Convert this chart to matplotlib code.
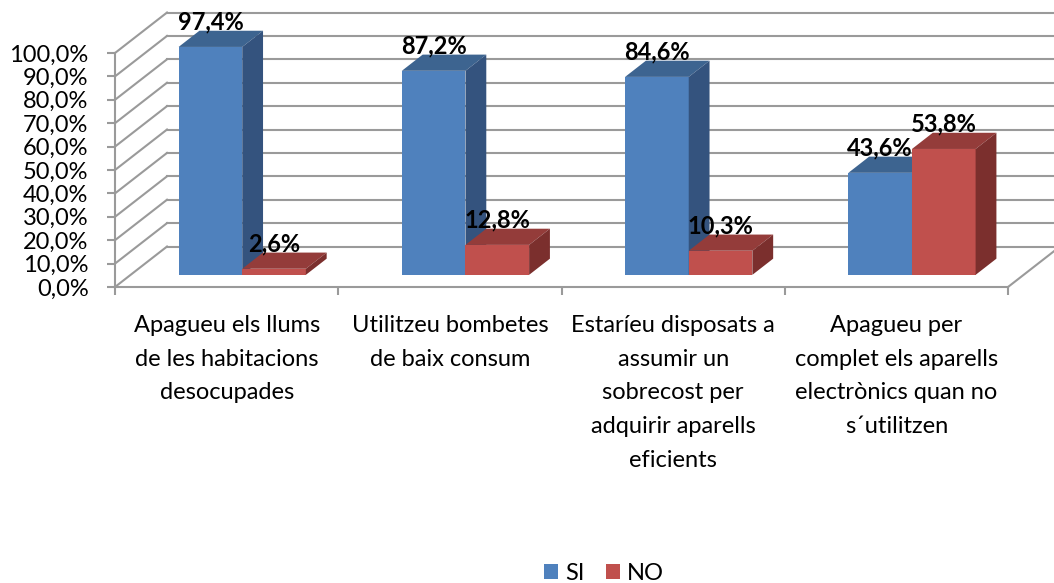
import matplotlib
matplotlib.use('Agg')
import matplotlib.pyplot as plt
from matplotlib.patches import Polygon, Patch

# ---- data ----
categories = [
    "Apagueu els llums\nde les habitacions\ndesocupades",
    "Utilitzeu bombetes\nde baix consum",
    "Estaríeu disposats a\nassumir un\nsobrecost per\nadquirir aparells\neficients",
    "Apagueu per\ncomplet els aparells\nelectrònics quan no\ns´utilitzen",
]
series_names = ["SI", "NO"]
si_values = [97.4, 87.2, 84.6, 43.6]
no_values = [2.6, 12.8, 10.3, 53.8]
yticks = [0, 10, 20, 30, 40, 50, 60, 70, 80, 90, 100]
ytick_labels = ["0,0%", "10,0%", "20,0%", "30,0%", "40,0%", "50,0%",
                "60,0%", "70,0%", "80,0%", "90,0%", "100,0%"]

# ---- style ----
plt.rcParams['font.family'] = ['Lato', 'DejaVu Sans']
FS = 17
GRID = '#9a9a9a'
front_cols = ['#4F81BD', '#C0504D']
top_cols = ['#3D6490', '#943C3A']
side_cols = ['#34537E', '#7B2F2D']

DX, DY = 0.233, 17.3      # full depth offset in data units
D0, D1 = 0.3, 0.7         # bar depth range (fraction)
W = 0.285                 # bar width

fig = plt.figure(figsize=(10.54, 5.83), dpi=100)
ax = fig.add_axes([115/1054, 296/583, 893/1054, 234/583])
ax.set_xlim(0, 4)
ax.set_ylim(0, 100)
ax.patch.set_visible(False)

# spines
for s in ['top', 'right']:
    ax.spines[s].set_visible(False)
for s in ['left', 'bottom']:
    ax.spines[s].set_color(GRID)
    ax.spines[s].set_linewidth(1.5)

# y ticks
ax.set_yticks(yticks)
ax.set_yticklabels(ytick_labels, fontsize=FS)
ax.tick_params(axis='y', length=6, width=1.5, color=GRID, pad=13)

# x ticks
ax.set_xticks([i + 0.5 for i in range(len(categories))])
ax.set_xticklabels(categories, fontsize=FS, linespacing=1.75)
ax.tick_params(axis='x', which='major', length=0, pad=20)
ax.set_xticks(range(len(categories) + 1), minor=True)
ax.tick_params(axis='x', which='minor', length=6, width=1.5, color=GRID)

# walls / gridlines
n = len(categories)
for v in yticks:
    ax.plot([0, DX], [v, v + DY], color=GRID, lw=1.5, clip_on=False, zorder=1)
    ax.plot([DX, n + DX], [v + DY, v + DY], color=GRID, lw=1.5, clip_on=False, zorder=1)
ax.plot([n, n + DX], [0, DY], color=GRID, lw=1.5, clip_on=False, zorder=1)

# bars with 3D faces
for i in range(n):
    c = i + 0.5
    for k, vals in enumerate([si_values, no_values]):
        v = vals[i]
        x0 = c - W + k * W
        x1 = x0 + W
        ax.bar(x0 + D0 * DX, v, width=W, bottom=D0 * DY, align='edge',
               color=front_cols[k], edgecolor='none', clip_on=False, zorder=3)
        top = [(x0 + D0 * DX, v + D0 * DY), (x1 + D0 * DX, v + D0 * DY),
               (x1 + D1 * DX, v + D1 * DY), (x0 + D1 * DX, v + D1 * DY)]
        side = [(x1 + D0 * DX, D0 * DY), (x1 + D1 * DX, D1 * DY),
                (x1 + D1 * DX, v + D1 * DY), (x1 + D0 * DX, v + D0 * DY)]
        ax.add_patch(Polygon(top, closed=True, facecolor=top_cols[k],
                             edgecolor='none', clip_on=False, zorder=3))
        ax.add_patch(Polygon(side, closed=True, facecolor=side_cols[k],
                             edgecolor='none', clip_on=False, zorder=3))
        lbl = f"{v:.1f}%".replace('.', ',')
        ax.annotate(lbl, (x0 + W / 2 + D0 * DX, v + D1 * DY), xytext=(0, -2),
                    textcoords='offset points', ha='center', va='bottom',
                    fontsize=FS, fontweight='bold', annotation_clip=False,
                    zorder=5)

handles = [Patch(facecolor=front_cols[0]), Patch(facecolor=front_cols[1])]
fig.legend(handles, series_names, loc='center', bbox_to_anchor=(0.573, 0.017),
           ncol=2, frameon=False, fontsize=FS, handlelength=0.6,
           handleheight=0.6, handletextpad=0.3, columnspacing=0.9)

fig.savefig('out.png', dpi=100)
